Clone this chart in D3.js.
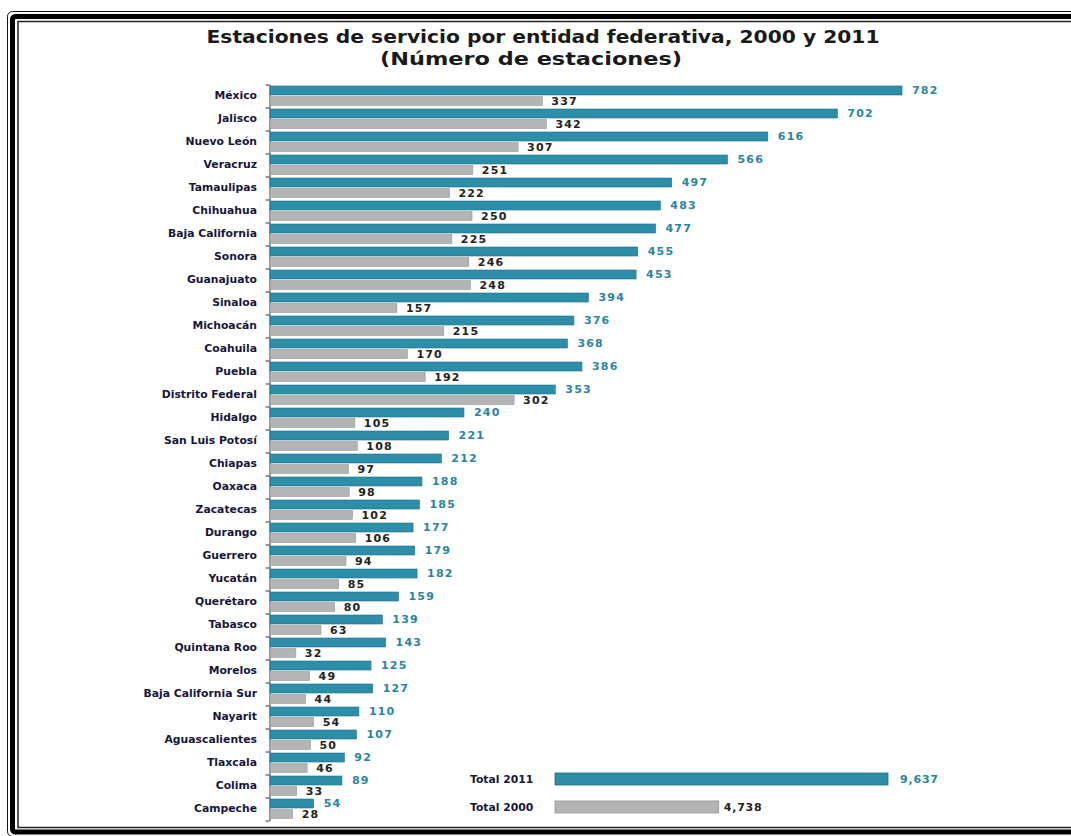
<!DOCTYPE html>
<html>
<head>
<meta charset="utf-8">
<script src="https://cdn.jsdelivr.net/npm/d3@7"></script>
<style>
  body { margin: 0; background: #fff; }
  svg { display: block; }
</style>
</head>
<body>
<script>
// estaciones de servicio por entidad, 2011 vs 2000
const estados = ["México", "Jalisco", "Nuevo León", "Veracruz", "Tamaulipas", "Chihuahua",
  "Baja California", "Sonora", "Guanajuato", "Sinaloa", "Michoacán", "Coahuila", "Puebla",
  "Distrito Federal", "Hidalgo", "San Luis Potosí", "Chiapas", "Oaxaca", "Zacatecas",
  "Durango", "Guerrero", "Yucatán", "Querétaro", "Tabasco", "Quintana Roo", "Morelos",
  "Baja California Sur", "Nayarit", "Aguascalientes", "Tlaxcala", "Colima", "Campeche"];
const v2011 = [782, 702, 616, 566, 497, 483, 477, 455, 453, 394, 376, 368, 386, 353, 240, 221,
  212, 188, 185, 177, 179, 182, 159, 139, 143, 125, 127, 110, 107, 92, 89, 54];
const v2000 = [337, 342, 307, 251, 222, 250, 225, 246, 248, 157, 215, 170, 192, 302, 105, 108,
  97, 98, 102, 106, 94, 85, 80, 63, 32, 49, 44, 54, 50, 46, 33, 28];
const totalLabels = ["Total 2011", "Total 2000"];
const totals = [9637, 4738];

const width = 1071, height = 836;
const teal = "#2c8ea9", tealDark = "#1d7088", grey = "#b4b4b4", greyDark = "#969696";

const svg = d3.select("body").append("svg")
    .attr("width", width)
    .attr("height", height);

// marco doble
svg.append("rect").attr("x", 7.5).attr("y", 11.5).attr("width", 1200).attr("height", 825)
    .attr("rx", 5).attr("fill", "none").attr("stroke", "#111").attr("stroke-width", 1);
svg.append("rect").attr("x", 12.5).attr("y", 16.5).attr("width", 1200).attr("height", 815.5)
    .attr("rx", 3).attr("fill", "none").attr("stroke", "#000").attr("stroke-width", 5);
svg.append("rect").attr("x", 18).attr("y", 21.5).attr("width", 1200).attr("height", 806)
    .attr("fill", "none").attr("stroke", "#222").attr("stroke-width", 1.5);

// titulo
svg.append("text")
    .attr("x", 543).attr("y", 43)
    .attr("text-anchor", "middle")
    .attr("textLength", 673).attr("lengthAdjust", "spacingAndGlyphs")
    .style("font", "bold 17px 'DejaVu Sans'")
    .attr("fill", "#1a1a1a")
    .text("Estaciones de servicio por entidad federativa, 2000 y 2011");
svg.append("text")
    .attr("x", 531).attr("y", 65)
    .attr("text-anchor", "middle")
    .attr("textLength", 302).attr("lengthAdjust", "spacingAndGlyphs")
    .style("font", "bold 17px 'DejaVu Sans'")
    .attr("fill", "#1a1a1a")
    .text("(Número de estaciones)");

// escalas
const x = d3.scaleLinear().domain([0, 782]).range([270, 902]);
const y = d3.scaleBand().domain(estados).range([84.5, 820.5]);
const yIdx = d3.scaleLinear().domain([0, estados.length]).range([84.5, 820.5]);

const barH = 9;

// ejes
svg.append("g")
    .attr("transform", "translate(269.5,0)")
    .call(d3.axisLeft(yIdx).tickValues(d3.range(estados.length + 1)).tickFormat("").tickSize(4).tickSizeOuter(0))
    .call(g => g.selectAll("line, path").attr("stroke", "#555").attr("stroke-width", 1.2));

svg.append("g")
    .attr("transform", "translate(257,0)")
    .call(d3.axisLeft(y).tickSize(0).tickPadding(0))
    .call(g => g.select(".domain").remove())
    .call(g => g.selectAll("text")
        .style("font", "bold 10.8px 'DejaVu Sans'")
        .attr("fill", "#16163a"));

const rows = estados.map((e, i) => ({ e, a: v2011[i], b: v2000[i] }));

// barras 2011 y 2000
const row = svg.append("g").selectAll("g")
    .data(rows)
    .enter().append("g");

row.append("rect")
    .attr("x", x(0))
    .attr("y", d => y(d.e) + 1.5)
    .attr("width", d => x(d.a) - x(0))
    .attr("height", barH)
    .attr("fill", teal)
    .attr("stroke", tealDark)
    .attr("stroke-width", 0.6);

row.append("rect")
    .attr("x", x(0))
    .attr("y", d => y(d.e) + 12)
    .attr("width", d => x(d.b) - x(0))
    .attr("height", barH)
    .attr("fill", grey)
    .attr("stroke", greyDark)
    .attr("stroke-width", 0.6);

row.append("text")
    .attr("x", d => x(d.a) + 10)
    .attr("y", d => y(d.e) + 6)
    .attr("dy", "0.35em")
    .style("font", "bold 11px 'DejaVu Sans'")
    .style("letter-spacing", "1.2px")
    .attr("fill", "#2a84a0")
    .text(d => d.a);

row.append("text")
    .attr("x", d => x(d.b) + 9)
    .attr("y", d => y(d.e) + 17)
    .attr("dy", "0.35em")
    .style("font", "bold 11px 'DejaVu Sans'")
    .style("letter-spacing", "1.2px")
    .attr("fill", "#222")
    .text(d => d.b);

// totales
const xt = d3.scaleLinear().domain([0, totals[0]]).range([555, 888]);
const yt = d3.scaleBand().domain(totalLabels).range([767, 823]);
const fmt = d3.format(",");

const tot = svg.append("g").selectAll("g")
    .data(totalLabels.map((l, i) => ({ l, v: totals[i], i })))
    .enter().append("g");

tot.append("rect")
    .attr("x", xt(0))
    .attr("y", d => yt(d.l) + 6)
    .attr("width", d => xt(d.v) - xt(0))
    .attr("height", 12)
    .attr("fill", d => d.i === 0 ? teal : grey)
    .attr("stroke", d => d.i === 0 ? tealDark : greyDark)
    .attr("stroke-width", 0.8);

tot.append("text")
    .attr("x", 470)
    .attr("y", d => yt(d.l) + 12)
    .attr("dy", "0.35em")
    .style("font", "bold 10.8px 'DejaVu Sans'")
    .attr("fill", "#16163a")
    .text(d => d.l);

tot.append("text")
    .attr("x", d => xt(d.v) + (d.i === 0 ? 12 : 5))
    .attr("y", d => yt(d.l) + 12)
    .attr("dy", "0.35em")
    .style("font", "bold 11px 'DejaVu Sans'")
    .style("letter-spacing", "0.8px")
    .attr("fill", d => d.i === 0 ? "#2a84a0" : "#222")
    .text(d => fmt(d.v));
</script>
</body>
</html>
